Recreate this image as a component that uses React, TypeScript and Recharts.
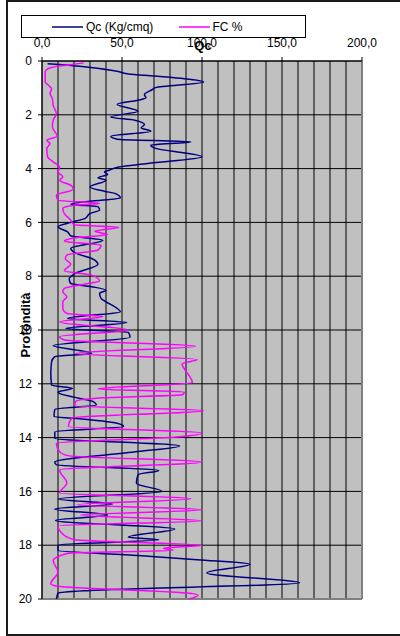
import { LineChart, Line, XAxis, YAxis, CartesianGrid, Legend, ReferenceLine } from "recharts"

// Qc (Kg/cmq) profile
const qcDepth = [
  0.1, 0.2, 0.38, 0.48, 0.56, 0.66, 0.78, 0.99, 1.06, 1.25, 1.37, 1.46, 1.61, 1.87, 2.08, 2.2, 2.36, 2.49, 2.61, 2.8,
  2.91, 3.01, 3.13, 3.23, 3.56, 3.81, 3.94, 4.06, 4.12, 4.22, 4.34, 4.43, 4.68, 4.84, 4.93, 5.09, 5.21, 5.33, 5.42, 5.54,
  5.67, 5.85, 6.0, 6.16, 6.35, 6.5, 6.66, 6.97, 7.19, 7.34, 7.56, 7.89, 8.1, 8.27, 8.39, 8.52, 8.64, 8.83, 8.95, 9.2,
  9.32, 9.57, 9.72, 9.94, 10.09, 10.27, 10.58, 10.87, 10.99, 11.18, 11.6, 12.05, 12.17, 12.31, 12.54, 12.66, 12.79, 12.95, 13.22, 13.28,
  13.47, 13.59, 13.78, 14.02, 14.31, 14.52, 14.91, 15.01, 15.22, 15.38, 15.7, 16.0, 16.28, 16.47, 16.66, 16.88, 17.08, 17.4, 17.7, 17.8,
  17.99, 18.2, 18.38, 18.54, 18.71, 19.03, 19.4, 19.68, 19.78, 20.0,
]
const qcValue = [
  3.5, 25, 47, 54, 70, 89, 101, 71, 69, 64, 65, 60, 47, 60, 43, 58, 64, 62, 68, 43,
  47, 93, 68, 70, 100, 66, 48, 42, 39, 41, 35, 40, 30, 39, 46, 49, 30, 18, 35, 36,
  30, 27, 18, 10, 16, 18, 38, 18, 23, 31, 35, 21, 17, 18, 31, 40, 36, 37, 40, 47,
  49, 16, 53, 15, 54, 55, 7, 31, 8, 6, 5.5, 6, 19, 10, 23, 32, 34, 8, 7.5, 20,
  47, 51, 8, 8, 86, 60, 8, 9, 73, 60, 59, 75, 10, 44, 8, 41, 8.5, 83, 54, 73,
  10, 10, 60, 97, 130, 103, 161, 30, 10, 9,
]

// FC % profile
const fcDepth = [
  0.07, 0.14, 0.2, 0.28, 0.4, 0.6, 0.78, 0.9, 1.03, 1.21, 1.4, 1.65, 1.96, 2.2, 2.45, 2.8, 2.95, 3.07, 3.25, 3.56,
  3.75, 3.95, 4.12, 4.31, 4.43, 4.64, 4.77, 4.99, 5.17, 5.3, 5.36, 5.48, 5.67, 5.92, 6.08, 6.18, 6.33, 6.45, 6.58, 6.7,
  6.85, 7.03, 7.2, 7.34, 7.55, 7.8, 7.96, 8.18, 8.27, 8.45, 8.58, 8.76, 8.95, 9.2, 9.38, 9.5, 9.7, 10.0, 10.25, 10.37,
  10.6, 10.87, 11.1, 11.26, 11.49, 11.7, 11.95, 12.19, 12.3, 12.4, 12.52, 12.66, 12.82, 12.99, 13.28, 13.59, 13.83, 13.98, 14.21, 14.52,
  14.68, 14.91, 15.2, 15.69, 16.06, 16.27, 16.5, 16.68, 16.88, 17.09, 17.28, 17.59, 17.8, 18.01, 18.11, 18.19, 18.3, 18.58, 19.0, 19.43,
  19.53, 19.8, 19.86, 20.0,
]
const fcValue = [
  26, 18, 9, 4, 2, 2, 2, 4, 6, 5, 6.5, 7, 9, 7, 6.5, 9.5, 3, 5, 3, 3.5,
  7, 11, 10, 13, 11, 18.5, 19.5, 9, 10, 36, 20, 13, 14, 18, 20, 48, 33, 41, 20, 14,
  37, 35, 16, 14.5, 18, 14, 31, 36, 29, 14, 13, 15.5, 13, 13, 15.5, 38, 11, 54, 11, 14,
  96, 21, 97, 87.5, 89.5, 92, 94, 35, 89, 88, 38, 21, 20.5, 101, 18.5, 16.5, 100, 84, 9, 11,
  17, 100, 11, 15.5, 11, 93, 22, 100, 24, 100, 10, 13, 20.5, 100, 76, 82, 16.5, 7, 10, 5.5,
  10, 94, 97.5, 92,
]

const qcTicks = [0, 10, 20, 30, 40, 50, 60, 70, 80, 90, 100, 110, 120, 130, 140, 150, 160, 170, 180, 190, 200]
const depthTicks = [0, 2, 4, 6, 8, 10, 12, 14, 16, 18, 20]
const seriesOrder = ["Qc (Kg/cmq)", "FC %"]

const qcData = qcDepth.map((depth, i) => ({ depth, qc: qcValue[i] }))
const fcData = fcDepth.map((depth, i) => ({ depth, fc: fcValue[i] }))

const FONT = '"Liberation Sans", Arial, sans-serif'

// only every 50 gets a label and a tick mark, the rest is just grid
const QcTick = (props: any) => {
  const { x, y, payload } = props
  if (payload.value % 50 !== 0) return <g />
  return (
    <g>
      <line x1={x} x2={x} y1={y + 10} y2={y + 14} stroke="#000" />
      <text x={x} y={y} textAnchor="middle" fontSize={12} fill="#000" fontFamily={FONT}>
        {payload.value.toFixed(1).replace(".", ",")}
      </text>
    </g>
  )
}

const renderLegend = (props: any) => {
  const items = [...(props.payload || [])].sort(
    (a: any, b: any) => seriesOrder.indexOf(a.value) - seriesOrder.indexOf(b.value)
  )
  return (
    <div style={{ display: "flex", alignItems: "center", height: 21, paddingLeft: 30, fontSize: 12, fontFamily: FONT, color: "#000" }}>
      {items.map((entry: any) => (
        <div key={entry.value} style={{ width: 160, display: "flex", alignItems: "center" }}>
          <svg width={31} height={4} style={{ display: "block" }}>
            <line x1={0} y1={2} x2={31} y2={2} stroke={entry.color} strokeWidth={1.5} />
          </svg>
          <span style={{ marginLeft: 3 }}>{entry.value}</span>
        </div>
      ))}
    </div>
  )
}

export default function App() {
  return (
    <div style={{ position: "absolute", left: 0, top: 0, width: 400, height: 636, background: "#fff", overflow: "hidden" }}>
      <div style={{ position: "absolute", left: 6, top: 0, width: 400, height: 632, border: "2px solid #1a1a1a" }} />
      <LineChart
        width={400}
        height={636}
        layout="vertical"
        margin={{ top: 0, left: 0, right: 38, bottom: 37 }}
        style={{ fontFamily: FONT }}
      >
        <CartesianGrid stroke="#000" fill="#C0C0C0" fillOpacity={1} />
        <XAxis
          type="number"
          orientation="top"
          domain={[0, 200]}
          ticks={qcTicks}
          interval={0}
          height={61}
          tickSize={0}
          tickMargin={14}
          tick={<QcTick />}
          axisLine={{ stroke: "#000" }}
          allowDataOverflow
        />
        <YAxis
          type="number"
          dataKey="depth"
          domain={[0, 20]}
          ticks={depthTicks}
          interval={0}
          width={42}
          tickSize={4}
          tickMargin={6}
          tick={{ fill: "#000", fontSize: 12, fontFamily: FONT }}
          axisLine={{ stroke: "#000" }}
          tickLine={{ stroke: "#000" }}
        />
        <ReferenceLine x={200} stroke="#808080" strokeWidth={2} />
        <ReferenceLine y={20} stroke="#808080" strokeWidth={2} />
        <Legend
          content={renderLegend}
          verticalAlign="middle"
          align="center"
          wrapperStyle={{ top: 15, left: 21, width: 285, height: 23, border: "1px solid #000", background: "#fff", boxSizing: "border-box" }}
        />
        <Line
          data={qcData}
          dataKey="qc"
          name="Qc (Kg/cmq)"
          type="monotone"
          stroke="#000080"
          strokeWidth={1.5}
          dot={false}
          isAnimationActive={false}
        />
        <Line
          data={fcData}
          dataKey="fc"
          name="FC %"
          type="monotone"
          stroke="#FF00FF"
          strokeWidth={1.5}
          dot={false}
          isAnimationActive={false}
        />
      </LineChart>
      <svg width={400} height={636} style={{ position: "absolute", left: 0, top: 0, pointerEvents: "none" }}>
        <text x={203} y={50} textAnchor="middle" fontSize={13} fontWeight="bold" fontFamily={FONT} fill="#000">
          Qc
        </text>
        <text
          x={30}
          y={325}
          transform="rotate(-90 30 325)"
          textAnchor="middle"
          fontSize={13}
          fontWeight="bold"
          fontFamily={FONT}
          fill="#000"
        >
          Profondità
        </text>
      </svg>
    </div>
  )
}
